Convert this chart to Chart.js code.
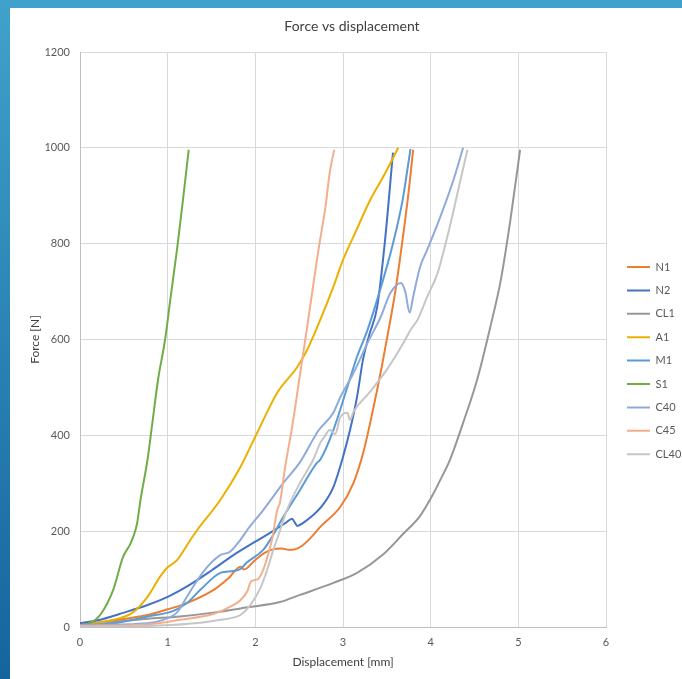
<!DOCTYPE html>
<html lang="en">
<head>
<meta charset="UTF-8">
<title>Force vs displacement</title>
<script src="https://cdn.jsdelivr.net/npm/chart.js"></script>
<style>
    html, body { margin: 0; padding: 0; }
    body {
        width: 682px;
        height: 679px;
        overflow: hidden;
        position: relative;
        background: linear-gradient(to bottom, #40a2ca, #15649e);
    }
    .panel {
        position: absolute;
        left: 10px;
        top: 8px;
        width: 672px;
        height: 671px;
        background: #ffffff;
    }
    canvas { display: block; }
</style>
</head>
<body>
<div class="panel"><canvas id="forceChart" width="672" height="671"></canvas></div>
<script>
// tick labels
const xTicks = [0, 1, 2, 3, 4, 5, 6];
const yTicks = [0, 200, 400, 600, 800, 1000, 1200];

// series names, in legend order
const seriesNames = ['N1', 'N2', 'CL1', 'A1', 'M1', 'S1', 'C40', 'C45', 'CL40'];

// [displacement mm, force N]
const N1 = [[0, 5], [0.4, 14], [0.77, 25], [1.0, 37], [1.15, 45], [1.52, 77], [1.7, 103], [1.83, 126], [1.87, 120],
    [2.0, 140], [2.1, 154], [2.2, 162], [2.3, 164], [2.38, 161], [2.45, 162], [2.52, 168], [2.62, 184], [2.74, 209],
    [2.97, 251], [3.12, 301], [3.23, 363], [3.31, 426], [3.39, 495], [3.45, 551], [3.52, 620], [3.6, 704],
    [3.69, 823], [3.75, 910], [3.8, 996]];
const N2 = [[0, 8], [0.2, 14], [0.5, 30], [0.77, 46], [1.0, 63], [1.25, 88], [1.5, 118], [1.75, 150], [2.0, 178],
    [2.2, 200], [2.35, 218], [2.42, 226], [2.45, 218], [2.48, 211], [2.55, 218], [2.65, 232], [2.77, 255],
    [2.89, 292], [3.0, 355], [3.08, 411], [3.16, 480], [3.23, 560], [3.3, 610], [3.39, 668], [3.48, 808], [3.57, 990]];
const CL1 = [[0, 4], [0.77, 17], [1.14, 22], [1.52, 30], [1.91, 41], [2.28, 52], [2.51, 67], [2.89, 92], [3.16, 113],
    [3.46, 152], [3.69, 195], [3.88, 232], [4.03, 278], [4.11, 307], [4.22, 349], [4.37, 426], [4.53, 516],
    [4.68, 626], [4.8, 724], [4.91, 850], [5.02, 996]];
const A1 = [[0, 3], [0.38, 15], [0.6, 30], [0.77, 63], [0.91, 104], [0.99, 123], [1.11, 140], [1.26, 182], [1.34, 203],
    [1.6, 265], [1.83, 334], [2.02, 405], [2.25, 489], [2.48, 543], [2.59, 578], [2.74, 641], [2.89, 710], [3.0, 766],
    [3.14, 823], [3.31, 891], [3.46, 940], [3.63, 1000]];
const M1 = [[0, 4], [0.4, 8], [0.77, 22], [1.06, 33], [1.22, 50], [1.37, 77], [1.6, 113], [1.75, 117], [1.83, 121],
    [1.9, 134], [2.09, 161], [2.17, 182], [2.32, 230], [2.51, 286], [2.7, 342], [2.74, 349], [2.89, 411], [3.05, 501],
    [3.16, 564], [3.28, 620], [3.48, 739], [3.56, 793], [3.68, 891], [3.77, 998]];
const S1 = [[0, 3], [0.11, 8], [0.23, 25], [0.38, 78], [0.49, 146], [0.57, 172], [0.6, 185], [0.65, 215], [0.69, 265],
    [0.77, 349], [0.82, 418], [0.89, 516], [0.97, 599], [1.03, 683], [1.11, 793], [1.18, 900], [1.24, 996]];
const C40 = [[0, 4], [0.77, 8], [0.95, 15], [1.11, 31], [1.22, 63], [1.34, 98], [1.45, 125], [1.6, 150], [1.71, 157],
    [1.83, 182], [1.91, 203], [2.09, 244], [2.32, 301], [2.51, 344], [2.72, 410], [2.89, 447], [2.97, 480],
    [3.12, 530], [3.28, 593], [3.43, 647], [3.54, 697], [3.66, 718], [3.71, 700], [3.76, 656], [3.8, 689],
    [3.88, 752], [3.96, 787], [4.11, 856], [4.26, 933], [4.37, 1000]];
const C45 = [[0, 2], [0.8, 6], [1.14, 15], [1.52, 27], [1.71, 42], [1.83, 56], [1.91, 75], [1.95, 95], [2.03, 100],
    [2.09, 119], [2.15, 154], [2.19, 182], [2.25, 244], [2.28, 259], [2.34, 334], [2.42, 418], [2.5, 515],
    [2.57, 600], [2.65, 700], [2.72, 787], [2.8, 877], [2.85, 950], [2.9, 996]];
const CL40 = [[0, 0], [0.9, 3], [1.37, 9], [1.6, 15], [1.71, 18], [1.83, 25], [1.94, 45], [2.06, 82], [2.14, 122],
    [2.2, 158], [2.26, 190], [2.36, 244], [2.51, 301], [2.66, 349], [2.74, 384], [2.78, 395], [2.85, 411],
    [2.91, 403], [2.97, 438], [3.05, 447], [3.08, 432], [3.12, 449], [3.3, 489], [3.5, 537], [3.69, 593],
    [3.77, 620], [3.85, 641], [3.96, 689], [4.08, 739], [4.17, 800], [4.25, 860], [4.33, 925], [4.42, 996]];

const seriesData = [N1, N2, CL1, A1, M1, S1, C40, C45, CL40];
const seriesColors = ['#ED7D31', '#4472C4', '#979797', '#EBB000', '#5B9BD5', '#70AD47', '#8FAADC', '#F4AE8C', '#C6C6C6'];

Chart.defaults.font.family = 'Lato, "Open Sans", sans-serif';
Chart.defaults.color = '#595959';

// pins the plot box and the legend to where Excel put them
const layoutFix = {
    id: 'layoutFix',
    beforeUpdate(chart) {
        const legend = chart.legend;
        if (legend && !legend._fixed) {
            const fit = legend.fit;
            legend.fit = function () {
                fit.call(this);
                this.width = 76;
            };
            legend._fixed = true;
        }
    },
    afterLayout(chart) {
        const l = chart.legend;
        const pad = l.options.labels.padding;
        l.left = 617 - pad;
        l.right = l.left + l.width;
        l.top = 253.5 - pad;
        l.bottom = l.top + l.columnSizes[0].height + pad;
        l.height = l.bottom - l.top;
    }
};

const datasets = seriesNames.map((name, i) => ({
    label: name,
    data: seriesData[i].map(p => ({ x: p[0], y: p[1] })),
    borderColor: seriesColors[i],
    backgroundColor: seriesColors[i],
    borderWidth: 2,
    pointRadius: 0,
    showLine: true,
    cubicInterpolationMode: 'monotone',
    order: seriesNames.length - i
}));

new Chart(document.getElementById('forceChart'), {
    type: 'scatter',
    data: { datasets },
    plugins: [layoutFix],
    options: {
        responsive: false,
        devicePixelRatio: 1,
        animation: false,
        layout: { padding: { left: 12, right: 0, top: 0, bottom: 0 } },
        scales: {
            x: {
                type: 'linear',
                min: 0,
                max: 6,
                afterBuildTicks: s => { s.ticks = xTicks.map(v => ({ value: v })); },
                afterFit: s => { s.height = 52; },
                grid: { color: '#D9D9D9', drawTicks: false },
                border: { color: '#BFBFBF' },
                ticks: { padding: 9, font: { size: 11 }, color: '#595959', callback: v => String(v) },
                title: {
                    display: true,
                    text: 'Displacement [mm]',
                    font: { size: 12 },
                    color: '#404040',
                    padding: { top: 0, bottom: 10 }
                }
            },
            y: {
                type: 'linear',
                min: 0,
                max: 1200,
                afterBuildTicks: s => { s.ticks = yTicks.map(v => ({ value: v })); },
                afterFit: s => { s.width = 58; },
                grid: { color: '#D9D9D9', drawTicks: false },
                border: { color: '#BFBFBF' },
                ticks: { padding: 10, font: { size: 11 }, color: '#595959', callback: v => String(v) },
                title: {
                    display: true,
                    text: 'Force [N]',
                    font: { size: 12 },
                    color: '#404040',
                    padding: { top: 6, bottom: 0 }
                }
            }
        },
        plugins: {
            title: {
                display: true,
                text: 'Force vs displacement',
                font: { size: 14, weight: 'normal' },
                color: '#404040',
                padding: { top: 9.6, bottom: 17.6 }
            },
            legend: {
                position: 'right',
                labels: {
                    usePointStyle: true,
                    pointStyle: 'line',
                    pointStyleWidth: 23,
                    padding: 12.4,
                    font: { size: 11 },
                    color: '#595959',
                    sort: (a, b) => a.datasetIndex - b.datasetIndex
                }
            },
            tooltip: { enabled: false }
        }
    }
});
</script>
</body>
</html>
